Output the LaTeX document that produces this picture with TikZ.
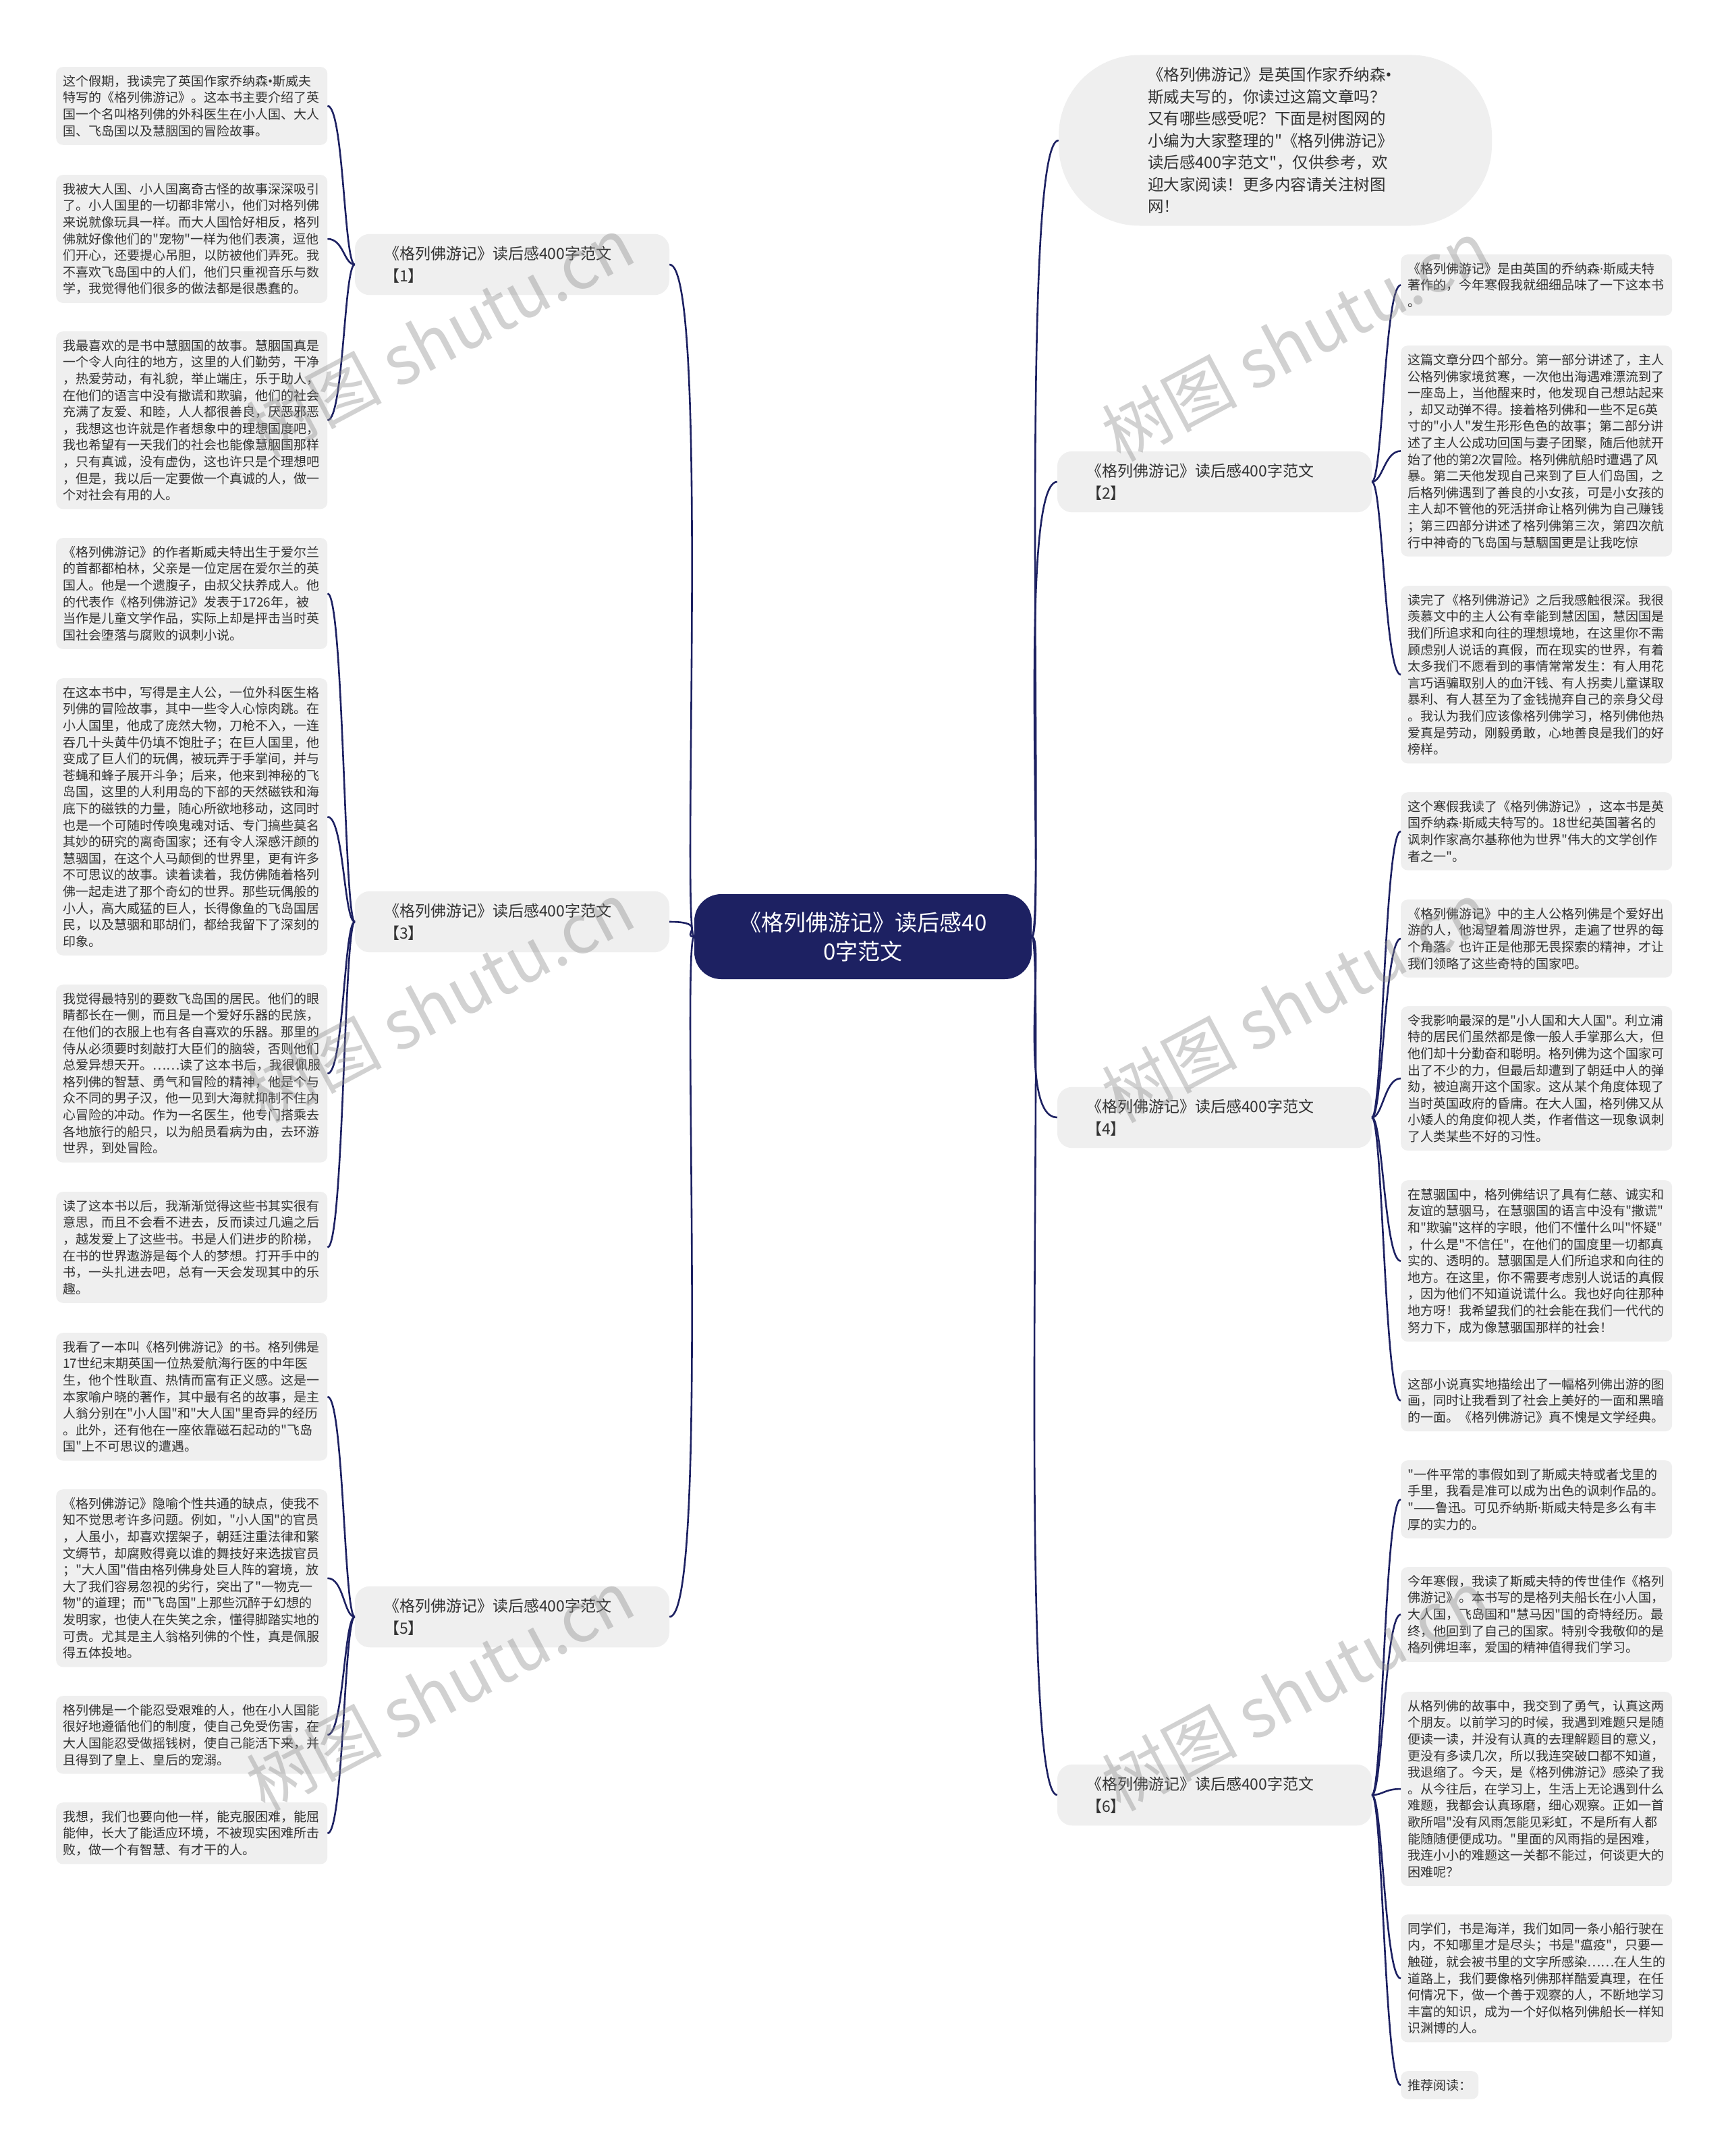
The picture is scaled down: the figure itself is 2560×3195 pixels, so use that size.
\documentclass[tikz,border=0pt]{standalone}
\usepackage{fontspec}
\setmainfont{Noto Sans CJK SC}[Ligatures=TeXOff]
\newfontfamily\symfont{Noto Sans}[Ligatures=TeXOff]
\newcommand\wdot{{\symfont ·}}
\newcommand\wbul{{\symfont •}}
\definecolor{mapnavy}{HTML}{1D2162}
\definecolor{boxgray}{HTML}{EFEFEF}
\definecolor{inkgray}{HTML}{333333}

\begin{document}
\begin{tikzpicture}[
  x=1pt, y=-1pt,
  leaf/.style={fill=boxgray, rounded corners=10pt, text=inkgray, font=\fontsize{19}{24.6}\selectfont,
    text width=382pt, align=left, inner xsep=10pt, inner ysep=12pt, anchor=north west},
  branch/.style={fill=boxgray, rounded corners=22pt, text=inkgray, font=\fontsize{23}{33}\selectfont,
    text width=380pt, align=left, inner xsep=43pt, inner ysep=18pt},
  rootnode/.style={fill=mapnavy, rounded corners=40pt, text=white, font=\fontsize{33}{43}\selectfont,
    align=center, minimum width=500pt, minimum height=126pt},
  intro/.style={fill=boxgray, rounded corners=120pt, text=inkgray, font=\fontsize{23.5}{32.5}\selectfont,
    text width=378pt, align=left, inner xsep=132pt, minimum height=253pt},
  link/.style={draw=mapnavy, line width=2.6pt},
  wmark/.style={text=black!45, opacity=0.4, rotate=28, font=\fontsize{100}{100}\selectfont},
]
\fill[white] (0,0) rectangle (2560,3195);
\useasboundingbox (0,0) rectangle (2560,3195);

% ===== centre and branches =====
\node[rootnode] (root) at (1279,1388) {《格列佛游记》读后感40\\0字范文};

\node[branch] (b1) at (759,392) {《格列佛游记》读后感400字范文\\【1】};
\node[branch] (b3) at (759,1366) {《格列佛游记》读后感400字范文\\【3】};
\node[branch] (b5) at (759,2396) {《格列佛游记》读后感400字范文\\【5】};
\node[branch] (b2) at (1800,714) {《格列佛游记》读后感400字范文\\【2】};
\node[branch] (b4) at (1800,1656) {《格列佛游记》读后感400字范文\\【4】};
\node[branch] (b6) at (1800,2660) {《格列佛游记》读后感400字范文\\【6】};

\node[intro] (intro) at (1890,208) {《格列佛游记》是英国作家乔纳森\wbul\\斯威夫写的，你读过这篇文章吗？\\又有哪些感受呢？下面是树图网的\\小编为大家整理的"《格列佛游记》\\读后感400字范文"，仅供参考，欢\\迎大家阅读！更多内容请关注树图\\网！};

% ===== left leaves =====
\node[leaf] (l1) at (83,99) {这个假期，我读完了英国作家乔纳森\wbul 斯威夫\\特写的《格列佛游记》。这本书主要介绍了英\\国一个名叫格列佛的外科医生在小人国、大人\\国、飞岛国以及慧胭国的冒险故事。};
\node[leaf] (l2) at (83,259) {我被大人国、小人国离奇古怪的故事深深吸引\\了。小人国里的一切都非常小，他们对格列佛\\来说就像玩具一样。而大人国恰好相反，格列\\佛就好像他们的"宠物"一样为他们表演，逗他\\们开心，还要提心吊胆，以防被他们弄死。我\\不喜欢飞岛国中的人们，他们只重视音乐与数\\学，我觉得他们很多的做法都是很愚蠢的。};
\node[leaf] (l3) at (83,491) {我最喜欢的是书中慧胭国的故事。慧胭国真是\\一个令人向往的地方，这里的人们勤劳，干净\\，热爱劳动，有礼貌，举止端庄，乐于助人，\\在他们的语言中没有撒谎和欺骗，他们的社会\\充满了友爱、和睦，人人都很善良，厌恶邪恶\\，我想这也许就是作者想象中的理想国度吧，\\我也希望有一天我们的社会也能像慧胭国那样\\，只有真诚，没有虚伪，这也许只是个理想吧\\，但是，我以后一定要做一个真诚的人，做一\\个对社会有用的人。};
\node[leaf] (l4) at (83,797) {《格列佛游记》的作者斯威夫特出生于爱尔兰\\的首都都柏林，父亲是一位定居在爱尔兰的英\\国人。他是一个遗腹子，由叔父扶养成人。他\\的代表作《格列佛游记》发表于1726年，被\\当作是儿童文学作品，实际上却是抨击当时英\\国社会堕落与腐败的讽刺小说。};
\node[leaf] (l5) at (83,1005) {在这本书中，写得是主人公，一位外科医生格\\列佛的冒险故事，其中一些令人心惊肉跳。在\\小人国里，他成了庞然大物，刀枪不入，一连\\吞几十头黄牛仍填不饱肚子；在巨人国里，他\\变成了巨人们的玩偶，被玩弄于手掌间，并与\\苍蝇和蜂子展开斗争；后来，他来到神秘的飞\\岛国，这里的人利用岛的下部的天然磁铁和海\\底下的磁铁的力量，随心所欲地移动，这同时\\也是一个可随时传唤鬼魂对话、专门搞些莫名\\其妙的研究的离奇国家；还有令人深感汗颜的\\慧骃国，在这个人马颠倒的世界里，更有许多\\不可思议的故事。读着读着，我仿佛随着格列\\佛一起走进了那个奇幻的世界。那些玩偶般的\\小人，高大威猛的巨人，长得像鱼的飞岛国居\\民，以及慧骃和耶胡们，都给我留下了深刻的\\印象。};
\node[leaf] (l6) at (83,1459) {我觉得最特别的要数飞岛国的居民。他们的眼\\睛都长在一侧，而且是一个爱好乐器的民族，\\在他们的衣服上也有各自喜欢的乐器。那里的\\侍从必须要时刻敲打大臣们的脑袋，否则他们\\总爱异想天开。……读了这本书后，我很佩服\\格列佛的智慧、勇气和冒险的精神，他是个与\\众不同的男子汉，他一见到大海就抑制不住内\\心冒险的冲动。作为一名医生，他专门搭乘去\\各地旅行的船只，以为船员看病为由，去环游\\世界，到处冒险。};
\node[leaf] (l7) at (83,1766) {读了这本书以后，我渐渐觉得这些书其实很有\\意思，而且不会看不进去，反而读过几遍之后\\，越发爱上了这些书。书是人们进步的阶梯，\\在书的世界遨游是每个人的梦想。打开手中的\\书，一头扎进去吧，总有一天会发现其中的乐\\趣。};
\node[leaf] (l8) at (83,1975) {我看了一本叫《格列佛游记》的书。格列佛是\\17世纪末期英国一位热爱航海行医的中年医\\生，他个性耿直、热情而富有正义感。这是一\\本家喻户晓的著作，其中最有名的故事，是主\\人翁分别在"小人国"和"大人国"里奇异的经历\\。此外，还有他在一座依靠磁石起动的"飞岛\\国"上不可思议的遭遇。};
\node[leaf] (l9) at (83,2207) {《格列佛游记》隐喻个性共通的缺点，使我不\\知不觉思考许多问题。例如，"小人国"的官员\\，人虽小，却喜欢摆架子，朝廷注重法律和繁\\文缛节，却腐败得竟以谁的舞技好来选拔官员\\；"大人国"借由格列佛身处巨人阵的窘境，放\\大了我们容易忽视的劣行，突出了"一物克一\\物"的道理；而"飞岛国"上那些沉醉于幻想的\\发明家，也使人在失笑之余，懂得脚踏实地的\\可贵。尤其是主人翁格列佛的个性，真是佩服\\得五体投地。};
\node[leaf] (l10) at (83,2513) {格列佛是一个能忍受艰难的人，他在小人国能\\很好地遵循他们的制度，使自己免受伤害，在\\大人国能忍受做摇钱树，使自己能活下来，并\\且得到了皇上、皇后的宠溺。};
\node[leaf] (l11) at (83,2671) {我想，我们也要向他一样，能克服困难，能屈\\能伸，长大了能适应环境，不被现实困难所击\\败，做一个有智慧、有才干的人。};

% ===== right leaves =====
\node[leaf] (r1) at (2076,377) {《格列佛游记》是由英国的乔纳森\wdot 斯威夫特\\著作的，今年寒假我就细细品味了一下这本书\\。};
\node[leaf] (r2) at (2076,512) {这篇文章分四个部分。第一部分讲述了，主人\\公格列佛家境贫寒，一次他出海遇难漂流到了\\一座岛上，当他醒来时，他发现自己想站起来\\，却又动弹不得。接着格列佛和一些不足6英\\寸的"小人"发生形形色色的故事；第二部分讲\\述了主人公成功回国与妻子团聚，随后他就开\\始了他的第2次冒险。格列佛航船时遭遇了风\\暴。第二天他发现自己来到了巨人们岛国，之\\后格列佛遇到了善良的小女孩，可是小女孩的\\主人却不管他的死活拼命让格列佛为自己赚钱\\；第三四部分讲述了格列佛第三次，第四次航\\行中神奇的飞岛国与慧駰国更是让我吃惊};
\node[leaf] (r3) at (2076,868) {读完了《格列佛游记》之后我感触很深。我很\\羡慕文中的主人公有幸能到慧因国，慧因国是\\我们所追求和向往的理想境地，在这里你不需\\顾虑别人说话的真假，而在现实的世界，有着\\太多我们不愿看到的事情常常发生：有人用花\\言巧语骗取别人的血汗钱、有人拐卖儿童谋取\\暴利、有人甚至为了金钱抛弃自己的亲身父母\\。我认为我们应该像格列佛学习，格列佛他热\\爱真是劳动，刚毅勇敢，心地善良是我们的好\\榜样。};
\node[leaf] (r4) at (2076,1174) {这个寒假我读了《格列佛游记》，这本书是英\\国乔纳森\wdot 斯威夫特写的。18世纪英国著名的\\讽刺作家高尔基称他为世界"伟大的文学创作\\者之一"。};
\node[leaf] (r5) at (2076,1333) {《格列佛游记》中的主人公格列佛是个爱好出\\游的人，他渴望着周游世界，走遍了世界的每\\个角落。也许正是他那无畏探索的精神，才让\\我们领略了这些奇特的国家吧。};
\node[leaf] (r6) at (2076,1491) {令我影响最深的是"小人国和大人国"。利立浦\\特的居民们虽然都是像一般人手掌那么大，但\\他们却十分勤奋和聪明。格列佛为这个国家可\\出了不少的力，但最后却遭到了朝廷中人的弹\\劾，被迫离开这个国家。这从某个角度体现了\\当时英国政府的昏庸。在大人国，格列佛又从\\小矮人的角度仰视人类，作者借这一现象讽刺\\了人类某些不好的习性。};
\node[leaf] (r7) at (2076,1749) {在慧骃国中，格列佛结识了具有仁慈、诚实和\\友谊的慧骃马，在慧骃国的语言中没有"撒谎"\\和"欺骗"这样的字眼，他们不懂什么叫"怀疑"\\，什么是"不信任"，在他们的国度里一切都真\\实的、透明的。慧骃国是人们所追求和向往的\\地方。在这里，你不需要考虑别人说话的真假\\，因为他们不知道说谎什么。我也好向往那种\\地方呀！我希望我们的社会能在我们一代代的\\努力下，成为像慧骃国那样的社会！};
\node[leaf] (r8) at (2076,2030) {这部小说真实地描绘出了一幅格列佛出游的图\\画，同时让我看到了社会上美好的一面和黑暗\\的一面。《格列佛游记》真不愧是文学经典。};
\node[leaf] (r9) at (2076,2164) {"一件平常的事假如到了斯威夫特或者戈里的\\手里，我看是准可以成为出色的讽刺作品的。\\"——鲁迅。可见乔纳斯\wdot 斯威夫特是多么有丰\\厚的实力的。};
\node[leaf] (r10) at (2076,2322) {今年寒假，我读了斯威夫特的传世佳作《格列\\佛游记》。本书写的是格列夫船长在小人国，\\大人国，飞岛国和"慧马因"国的奇特经历。最\\终，他回到了自己的国家。特别令我敬仰的是\\格列佛坦率，爱国的精神值得我们学习。};
\node[leaf] (r11) at (2076,2507) {从格列佛的故事中，我交到了勇气，认真这两\\个朋友。以前学习的时候，我遇到难题只是随\\便读一读，并没有认真的去理解题目的意义，\\更没有多读几次，所以我连突破口都不知道，\\我退缩了。今天，是《格列佛游记》感染了我\\。从今往后，在学习上，生活上无论遇到什么\\难题，我都会认真琢磨，细心观察。正如一首\\歌所唱"没有风雨怎能见彩虹，不是所有人都\\能随随便便成功。"里面的风雨指的是困难，\\我连小小的难题这一关都不能过，何谈更大的\\困难呢？};
\node[leaf] (r12) at (2076,2837) {同学们，书是海洋，我们如同一条小船行驶在\\内，不知哪里才是尽头；书是"瘟疫"，只要一\\触碰，就会被书里的文字所感染……在人生的\\道路上，我们要像格列佛那样酷爱真理，在任\\何情况下，做一个善于观察的人，不断地学习\\丰富的知识，成为一个好似格列佛船长一样知\\识渊博的人。};
\node[leaf, text width=] (r13) at (2076,3069) {推荐阅读：};

% ===== connectors =====
\foreach \b in {b1,b3,b5}
  \draw[link] (root.west) .. controls +(-20,0) and +(60,0) .. (\b.east);
\foreach \b in {intro,b2,b4,b6}
  \draw[link] (root.east) .. controls +(20,0) and +(-60,0) .. (\b.west);

\foreach \l in {l1,l2,l3}
  \draw[link] (b1.west) .. controls +(-16,0) and +(24,0) .. (\l.east);
\foreach \l in {l4,l5,l6,l7}
  \draw[link] (b3.west) .. controls +(-16,0) and +(24,0) .. (\l.east);
\foreach \l in {l8,l9,l10,l11}
  \draw[link] (b5.west) .. controls +(-16,0) and +(24,0) .. (\l.east);
\foreach \r in {r1,r2,r3}
  \draw[link] (b2.east) .. controls +(16,0) and +(-24,0) .. (\r.west);
\foreach \r in {r4,r5,r6,r7,r8}
  \draw[link] (b4.east) .. controls +(16,0) and +(-24,0) .. (\r.west);
\foreach \r in {r9,r10,r11,r12,r13}
  \draw[link] (b6.east) .. controls +(16,0) and +(-24,0) .. (\r.west);

% ===== watermarks =====
\node[wmark] (wm1) at (652,500) {树图 shutu.cn};
\node[wmark] (wm2) at (652,1485) {树图 shutu.cn};
\node[wmark] (wm3) at (652,2505) {树图 shutu.cn};
\node[wmark] (wm4) at (1920,505) {树图 shutu.cn};
\node[wmark] (wm5) at (1920,1485) {树图 shutu.cn};
\node[wmark] (wm6) at (1920,2505) {树图 shutu.cn};

\end{tikzpicture}
\end{document}
